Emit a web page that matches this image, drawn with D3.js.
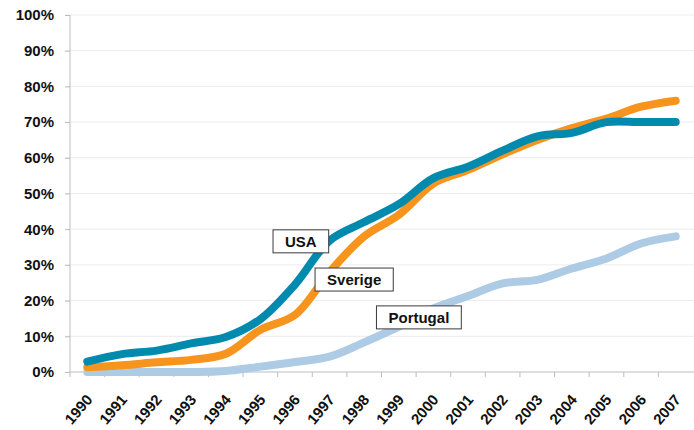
<html>
<head>
<meta charset="utf-8">
<title>Andel</title>
<style>
  body { margin: 0; background: #fff; }
  text { font-family: "Liberation Sans", Arial, Helvetica, sans-serif; font-weight: bold; fill: #111; }
  .grid line { stroke: #ececec; stroke-width: 1; }
  .axis path, .axis line { stroke: #bdbdbd; stroke-width: 1; }
  .line { fill: none; stroke-width: 8; stroke-linecap: round; stroke-linejoin: round; }
  .tag rect { fill: #fff; stroke: #3a3a3a; stroke-width: 1; }
</style>
<script src="https://d3js.org/d3.v7.min.js"></script>
</head>
<body>
<script>
// data (percent)
var years = ["1990","1991","1992","1993","1994","1995","1996","1997","1998","1999","2000","2001","2002","2003","2004","2005","2006","2007"];
var usa      = [2.9, 5.0, 6.0, 8.0, 9.8, 14.8, 24.5, 36.8, 42.0, 47.0, 54.3, 57.5, 62.0, 66.0, 67.0, 70.0, 70.0, 70.0];
var sverige  = [1.3, 1.9, 2.7, 3.4, 5.1, 11.8, 16.0, 28.0, 38.0, 44.0, 52.8, 56.6, 61.0, 65.0, 68.3, 71.0, 74.3, 76.0];
var portugal = [0, 0, 0, 0, 0.3, 1.5, 2.8, 4.3, 8.3, 12.7, 17.8, 21.3, 24.8, 25.8, 29.0, 31.8, 36.0, 38.0];
var yTicks = [0,10,20,30,40,50,60,70,80,90,100];

var seriesNames  = ["Portugal","Sverige","USA"];
var seriesColors = ["#aecbe5","#f7941d","#008aae"];
var seriesValues = [portugal, sverige, usa];
// label boxes: [year index (fractional), value]
var labelPos = [[9.58, 15.3],[7.71, 25.9],[6.17, 36.6]];

var width = 694, height = 430;
var margin = {top:15, right:1, bottom:58, left:70};

var svg = d3.select("body").append("svg")
    .attr("width", width)
    .attr("height", height);

var x = d3.scaleBand()
    .domain(years)
    .range([margin.left, width - margin.right]);
var y = d3.scaleLinear()
    .domain([0,100])
    .range([height - margin.bottom, margin.top]);
var xi = d3.scaleLinear()   // fractional year index -> pixel
    .domain([0, 1])
    .range([margin.left + x.bandwidth()/2, margin.left + x.bandwidth()*1.5]);

// gridlines
svg.append("g").attr("class","grid")
  .selectAll("line")
  .data(yTicks.slice(1))
  .enter().append("line")
  .attr("x1", margin.left - 5)
  .attr("x2", width)
  .attr("y1", function(d){ return y(d); })
  .attr("y2", function(d){ return y(d); });

// y axis
var yAxis = d3.axisLeft(y)
    .tickValues(yTicks)
    .tickFormat(function(d){ return d + "%"; })
    .tickSize(5)
    .tickPadding(11);
svg.append("g").attr("class","axis")
  .attr("transform","translate(" + margin.left + ",0)")
  .call(yAxis)
  .call(function(g){ g.select(".domain").attr("d","M0," + y(100) + "V" + y(0)); })
  .selectAll("text").style("font-size","15px");

// x axis, ticks between the categories
var xAxisG = svg.append("g").attr("class","axis")
  .attr("transform","translate(0," + y(0) + ")");
xAxisG.append("line")
  .attr("x1", margin.left).attr("x2", width)
  .attr("y1", 0).attr("y2", 0);
xAxisG.selectAll(".tk")
  .data(years)
  .enter().append("line")
  .attr("class","tk")
  .attr("x1", function(d){ return x(d); })
  .attr("x2", function(d){ return x(d); })
  .attr("y1", 0).attr("y2", 5);
xAxisG.selectAll(".lbl")
  .data(years)
  .enter().append("text")
  .attr("class","lbl")
  .attr("text-anchor","end")
  .attr("transform", function(d){
    return "translate(" + (x(d) + x.bandwidth()/2 + 6) + ",28) rotate(-50)";
  })
  .style("font-size","15px")
  .text(function(d){ return d; });

// lines
var line = d3.line()
    .x(function(d,i){ return x(years[i]) + x.bandwidth()/2; })
    .y(function(d){ return y(d); })
    .curve(d3.curveCatmullRom);

svg.selectAll(".line")
  .data(seriesValues)
  .enter().append("path")
  .attr("class","line")
  .attr("stroke", function(d,i){ return seriesColors[i]; })
  .attr("d", line);

// label boxes
seriesNames.forEach(function(name, i){
  var g = svg.append("g").attr("class","tag")
    .attr("transform","translate(" + xi(labelPos[i][0]) + "," + y(labelPos[i][1]) + ")");
  var r = g.append("rect");
  var t = g.append("text")
    .attr("text-anchor","middle")
    .attr("dy","0.36em")
    .style("font-size","15px")
    .text(name);
  var w = t.node().getComputedTextLength() + 24;
  r.attr("x", -w/2).attr("y", -11.5).attr("width", w).attr("height", 23);
});
</script>
</body>
</html>
